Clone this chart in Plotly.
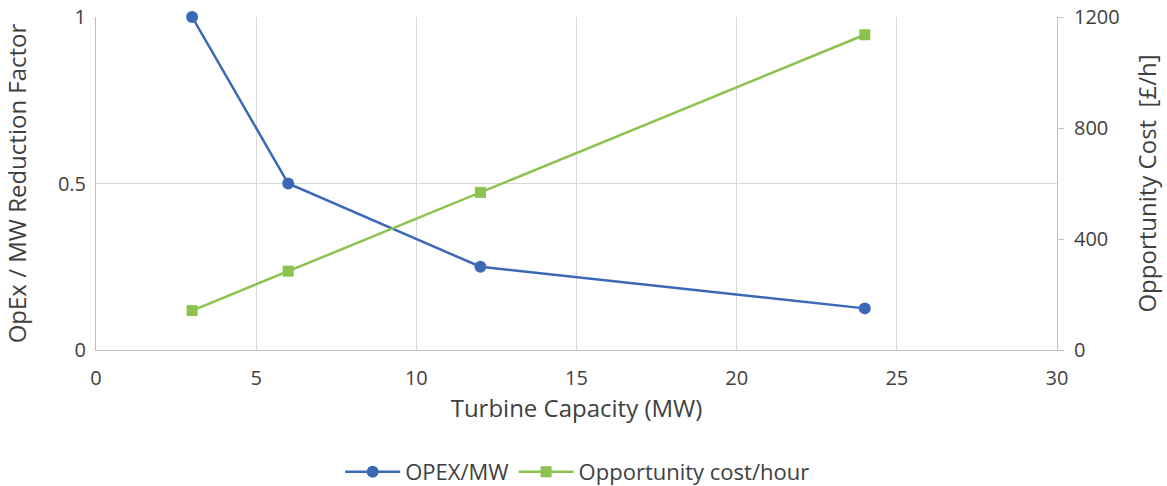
import plotly.graph_objects as go

capacity = [3, 6, 12, 24]
opex_factor = [1.0, 0.5, 0.25, 0.125]
opp_cost = [142, 284, 568, 1136]

x_ticks = [0, 5, 10, 15, 20, 25, 30]
left_ticks = [0, 0.5, 1]
right_ticks = [0, 400, 800, 1200]

blue = "#3C68B8"
green = "#8CC34F"
font = "Open Sans"

fig = go.Figure()
fig.add_trace(go.Scatter(
    x=capacity, y=opex_factor, name="OPEX/MW", mode="lines+markers",
    line=dict(color=blue, width=2.5), marker=dict(symbol="circle", size=12, color=blue),
    yaxis="y", cliponaxis=False))
fig.add_trace(go.Scatter(
    x=capacity, y=opp_cost, name="Opportunity cost/hour", mode="lines+markers",
    line=dict(color=green, width=2.5), marker=dict(symbol="square", size=11, color=green),
    yaxis="y2", cliponaxis=False))

fig.update_layout(
    width=1167, height=486,
    margin=dict(l=96, r=110, t=17, b=136),
    paper_bgcolor="white", plot_bgcolor="white",
    font=dict(family=font, size=20, color="#404040"),
    xaxis=dict(range=[0, 30], tickvals=x_ticks, showgrid=True, gridcolor="#D9D9D9",
               showline=True, linecolor="#BFBFBF", linewidth=1, zeroline=False,
               automargin=False, ticks="outside", ticklen=10, tickcolor="rgba(0,0,0,0)",
               title=dict(text="Turbine Capacity (MW)", standoff=8)),
    yaxis=dict(range=[0, 1], tickvals=left_ticks, ticktext=["0", "0.5", "1"],
               showgrid=True, gridcolor="#D9D9D9", showline=True, linecolor="#BFBFBF",
               zeroline=False, automargin=False, ticks="outside", ticklen=5,
               tickcolor="rgba(0,0,0,0)",
               title=dict(text="OpEx / MW Reduction Factor", standoff=30)),
    yaxis2=dict(range=[0, 1200], tickvals=right_ticks, overlaying="y", side="right",
                showgrid=False, showline=True, linecolor="#BFBFBF", zeroline=False,
                automargin=False, ticks="outside", ticklen=6, tickcolor="#BFBFBF",
                ticklabelstandoff=6,
                title=dict(text="Opportunity Cost  [£/h]", standoff=20)),
    legend=dict(orientation="h", x=0.495, xanchor="center", xref="container",
                y=0.029, yanchor="middle", yref="container", itemwidth=55,
                font=dict(size=22)),
    showlegend=True,
)

fig.write_html("out.html", config={"displayModeBar": False},
               post_script="document.body.style.margin='0';")
